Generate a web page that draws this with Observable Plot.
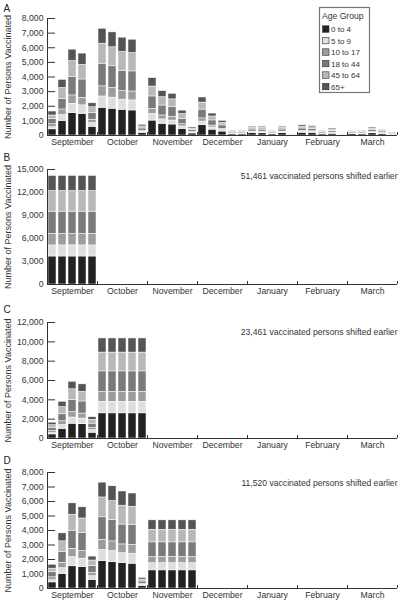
<!DOCTYPE html>
<html><head><meta charset="utf-8">
<script src="https://cdn.jsdelivr.net/npm/d3@7"></script>
<script src="https://cdn.jsdelivr.net/npm/@observablehq/plot@0.6"></script>
<style>
body{margin:0;background:#fff;font-family:"Liberation Sans",Arial,sans-serif;}
#wrap{position:relative;width:402px;height:601px;overflow:hidden;}
#wrap svg{display:block;}
</style></head><body><div id="wrap"></div><script>
// ---- data ----
const ageGroups = ["0 to 4", "5 to 9", "10 to 17", "18 to 44", "45 to 64", "65+"];
const ageColors = ["#222222", "#dedede", "#9c9c9c", "#7a7a7a", "#b8b8b8", "#555555"];
const months = ["September", "October", "November", "December", "January", "February", "March"];
const weeksPerMonth = 5;

// Panel A: observed weekly vaccinations by age group (0-4, 5-9, 10-17, 18-44, 45-64, 65+)
const panelA = [
  [420,150,200,350,250,270],[1000,400,380,720,750,550],[1530,640,570,1250,1100,780],[1480,580,520,1250,1000,770],[600,250,230,460,390,270],
  [1890,780,690,1550,1370,1020],[1830,760,660,1480,1300,1020],[1760,690,590,1370,1300,980],[1710,690,610,1370,1260,910],[180,75,75,150,140,110],
  [1020,460,340,850,680,570],[800,300,270,680,570,410],[750,270,260,650,540,380],[450,170,150,380,320,230],[140,60,50,120,100,80],
  [700,250,220,600,480,350],[400,150,130,350,270,200],[270,100,90,230,180,130],[80,30,30,70,50,40],[80,30,25,70,55,40],
  [160,60,50,140,110,80],[150,60,55,140,115,80],[80,30,30,70,50,40],[160,60,50,140,110,80],[25,10,10,20,15,10],
  [190,70,60,160,130,90],[170,65,55,150,120,90],[80,30,25,75,60,40],[120,45,40,110,95,70],[25,10,10,20,15,10],
  [90,30,30,75,60,45],[80,30,25,70,55,40],[150,55,45,130,100,70],[110,40,35,90,75,50],[55,20,15,45,40,25]
];
// Panel B: all vaccinations shifted into September
const panelB = [
  [3650,1450,1500,2900,2700,1960],[3650,1450,1500,2900,2700,1960],[3650,1450,1500,2900,2700,1960],[3650,1450,1500,2900,2700,1960],[3650,1450,1500,2900,2700,1960]
];
// Panel C: September as observed, remainder shifted into October
const panelC = [
  [420,150,200,350,250,270],[1000,400,380,720,750,550],[1530,640,570,1250,1100,780],[1480,580,520,1250,1000,770],[600,250,230,460,390,270],
  [2600,1200,1020,2120,1950,1460],[2600,1200,1020,2120,1950,1460],[2600,1200,1020,2120,1950,1460],[2600,1200,1020,2120,1950,1460],[2600,1200,1020,2120,1950,1460]
];
// Panel D: September-October as observed, remainder shifted into November
const panelD = [
  [420,150,200,350,250,270],[1000,400,380,720,750,550],[1530,640,570,1250,1100,780],[1480,580,520,1250,1000,770],[600,250,230,460,390,270],
  [1890,780,690,1550,1370,1020],[1830,760,660,1480,1300,1020],[1760,690,590,1370,1300,980],[1710,690,610,1370,1260,910],[180,75,75,150,140,110],
  [1250,500,430,1000,870,650],[1250,500,430,1000,870,650],[1250,500,430,1000,870,650],[1250,500,430,1000,870,650],[1250,500,430,1000,870,650]
];
const yTicksA = [0,1000,2000,3000,4000,5000,6000,7000,8000];
const yTicksB = [0,3000,6000,9000,12000,15000];
const yTicksC = [0,2000,4000,6000,8000,10000,12000];
const yTicksD = [0,1000,2000,3000,4000,5000,6000,7000,8000];
const panelLetters = ["A", "B", "C", "D"];
const shiftNotes = [null, "51,461 vaccinated persons shifted earlier", "23,461 vaccinated persons shifted earlier", "11,520 vaccinated persons shifted earlier"];
const yTitle = "Number of Persons Vaccinated";
const legendTitle = "Age Group";

// ---- layout ----
const layout = [
  {rows: panelA, yticks: yTicksA, height: 151, mt: 18, mb: 16, letterY: 11, noteY: 0},
  {rows: panelB, yticks: yTicksB, height: 151, mt: 18, mb: 18, letterY: 9,  noteY: 9},
  {rows: panelC, yticks: yTicksC, height: 150, mt: 20, mb: 14, letterY: 10, noteY: 12},
  {rows: panelD, yticks: yTicksD, height: 149, mt: 20, mb: 13, letterY: 11, noteY: 13}
];
const nWeeks = months.length * weeksPerMonth;
const monthBounds = d3.range(0, nWeeks + 1, weeksPerMonth);
const monthMids = months.map((m, i) => i * weeksPerMonth + weeksPerMonth / 2);
const fontFamily = "'Liberation Sans', Arial, sans-serif";
const ink = "#333";

const wrap = document.getElementById("wrap");
const charts = [];
layout.forEach((p, k) => {
  const data = [];
  p.rows.forEach((vals, i) => vals.forEach((v, j) => data.push({week: i, group: ageGroups[j], value: v})));
  const ymax = p.yticks[p.yticks.length - 1];
  const marks = [
    Plot.axisY({ticks: p.yticks, tickSize: -8, tickFormat: () => "", label: null, stroke: ink}),
    Plot.rectY(data, {x1: "week", x2: d => d.week + 1, y: "value", fill: "group", insetLeft: 1, insetRight: 1, stroke: "white", strokeWidth: 0.5}),
    Plot.axisY({ticks: p.yticks, tickSize: 0, tickPadding: 4, tickFormat: d3.format(","), label: null, fill: ink, fontSize: 8.7}),
    Plot.frame({anchor: "left", stroke: ink}),
    Plot.ruleY([0], {stroke: ink}),
    Plot.axisX({ticks: monthBounds, tickSize: -3, tickFormat: () => "", label: null, stroke: ink}),
    Plot.axisX({ticks: monthMids, tickSize: 0, tickPadding: 3, tickFormat: d => months[Math.floor(d / weeksPerMonth)], label: null, fill: ink, fontSize: 8.7}),
    Plot.text([yTitle], {frameAnchor: "left", rotate: -90, dx: -39.5, text: d => d, fontSize: 9, fill: ink, textAnchor: "middle", lineAnchor: "middle"}),
    Plot.text([panelLetters[k]], {frameAnchor: "top-left", text: d => d, dx: -44, dy: p.letterY - p.mt, textAnchor: "start", lineAnchor: "bottom", fontSize: 10, fill: "#222"})
  ];
  if (shiftNotes[k]) {
    marks.push(Plot.text([shiftNotes[k]], {frameAnchor: "top-right", text: d => d, dx: 0, dy: p.noteY, textAnchor: "end", lineAnchor: "bottom", fontSize: 8.6, fill: ink}));
  }
  const chart = Plot.plot({
    width: 402, height: p.height,
    marginLeft: 47, marginRight: 5, marginTop: p.mt, marginBottom: p.mb,
    style: {fontFamily, fontSize: "8.7px", color: ink, background: "white", overflow: "visible"},
    x: {domain: [0, nWeeks], label: null},
    y: {domain: [0, ymax], label: null},
    color: {domain: ageGroups, range: ageColors},
    marks
  });
  wrap.appendChild(chart);
  charts.push(chart);
});

// legend drawn into panel A's svg
const svgA = d3.select(charts[0]);
const lg = svgA.append("g").attr("font-family", fontFamily).attr("fill", ink).attr("text-anchor", "start");
lg.append("rect").attr("x", 319.5).attr("y", 7.5).attr("width", 50).attr("height", 85)
  .attr("fill", "white").attr("stroke", "#777").attr("stroke-width", 1.2);
lg.append("text").attr("x", 322).attr("y", 19).attr("font-size", 8.6).text(legendTitle);
ageGroups.forEach((g, i) => {
  const cy = 29.3 + i * 11.5;
  lg.append("rect").attr("x", 322.5).attr("y", cy - 3.5).attr("width", 6.5).attr("height", 6.5)
    .attr("fill", ageColors[i]).attr("stroke", "#333").attr("stroke-width", 0.6);
  lg.append("text").attr("x", 331).attr("y", cy + 3).attr("font-size", 8).text(g);
});
</script></body></html>
